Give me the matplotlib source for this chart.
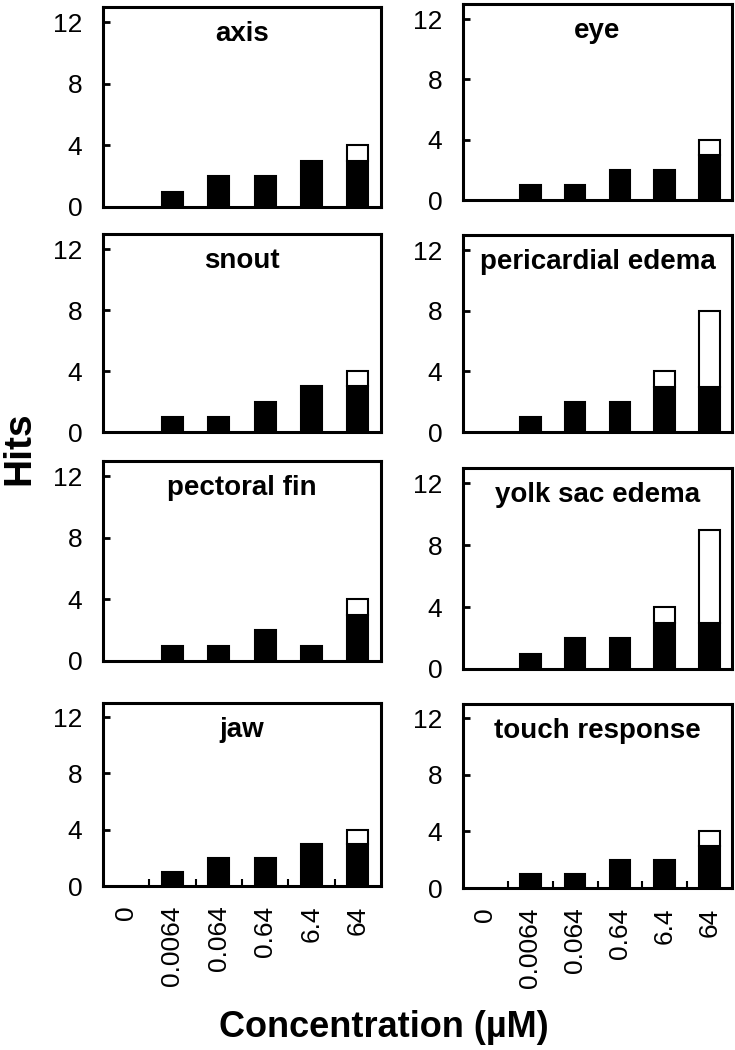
"""
hits per concentration for eight zebrafish endpoints, stacked bars
"""
import numpy as np
import matplotlib
matplotlib.use('Agg')
import matplotlib.pyplot as plt

conc_labels = ['0', '0.0064', '0.064', '0.64', '6.4', '64']

endpoints = ['axis', 'eye', 'snout', 'pericardial edema',
             'pectoral fin', 'yolk sac edema', 'jaw', 'touch response']

# black (lower) part of each bar
black_hits = {
    'axis':              [0, 1, 2, 2, 3, 3],
    'eye':               [0, 1, 1, 2, 2, 3],
    'snout':             [0, 1, 1, 2, 3, 3],
    'pericardial edema': [0, 1, 2, 2, 3, 3],
    'pectoral fin':      [0, 1, 1, 2, 1, 3],
    'yolk sac edema':    [0, 1, 2, 2, 3, 3],
    'jaw':               [0, 1, 2, 2, 3, 3],
    'touch response':    [0, 1, 1, 2, 2, 3],
}
# white (upper) part of each bar
white_hits = {
    'axis':              [0, 0, 0, 0, 0, 1],
    'eye':               [0, 0, 0, 0, 0, 1],
    'snout':             [0, 0, 0, 0, 0, 1],
    'pericardial edema': [0, 0, 0, 0, 1, 5],
    'pectoral fin':      [0, 0, 0, 0, 0, 1],
    'yolk sac edema':    [0, 0, 0, 0, 1, 6],
    'jaw':               [0, 0, 0, 0, 0, 1],
    'touch response':    [0, 0, 0, 0, 0, 1],
}

W, H = 735, 1050
# panel boxes in pixels: x0, x1, y_top, y_bottom
cols = [(103, 381), (463, 732)]
rows = [[(7, 207), (4, 200)],
        [(234, 432), (235, 432)],
        [(461, 661), (468, 669)],
        [(703, 886), (704, 888)]]

fig = plt.figure(figsize=(W / 100, H / 100), dpi=100)
x = np.arange(len(conc_labels))

for k, name in enumerate(endpoints):
    r, c = k // 2, k % 2
    x0, x1 = cols[c]
    yt, yb = rows[r][c]
    ax = fig.add_axes([x0 / W, 1 - yb / H, (x1 - x0) / W, (yb - yt) / H])
    b = np.array(black_hits[name])
    w = np.array(white_hits[name])
    kb = b > 0
    kw = w > 0
    ax.bar(x[kb], b[kb], width=0.46, color='black', edgecolor='black', linewidth=1.5, zorder=2)
    ax.bar(x[kw], w[kw], bottom=b[kw], width=0.46, color='white', edgecolor='black',
           linewidth=1.5, zorder=2)
    ax.set_xlim(-0.5, len(x) - 0.5)
    ax.set_ylim(0, 13)
    ax.set_yticks([0, 4, 8, 12])
    ax.tick_params(axis='y', direction='in', length=5, width=2, pad=15,
                   labelsize=19)
    for lab in ax.get_yticklabels():
        lab.set_fontfamily('Liberation Sans')
    for sp in ax.spines.values():
        sp.set_linewidth(2.2)
        sp.set_zorder(3)
    if r == 3:
        ax.set_xticks(x)
        ax.set_xticklabels(conc_labels, rotation=90, fontsize=19,
                           fontfamily='Liberation Sans')
        ax.set_xticks(x[:-1] + 0.5, minor=True)
        ax.tick_params(axis='x', which='major', length=0, pad=14)
        ax.tick_params(axis='x', which='minor', direction='in', length=5, width=1.5)
    else:
        ax.set_xticks([])
    ax.annotate(name, xy=(0.5, 1), xycoords='axes fraction', xytext=(0, -24.5),
                textcoords='offset points', ha='center', va='baseline',
                fontsize=20, fontweight='bold', fontfamily='Liberation Sans')

fig.text(19 / W, 1 - 448 / H, 'Hits', rotation=90, ha='center', va='center',
         fontsize=28, fontweight='bold', fontfamily='Liberation Sans')
fig.text(384 / W, 1 - 1037 / H, 'Concentration (µM)', ha='center', va='baseline',
         fontsize=26, fontweight='bold', fontfamily='Liberation Sans')

fig.savefig('out.png', dpi=100)
